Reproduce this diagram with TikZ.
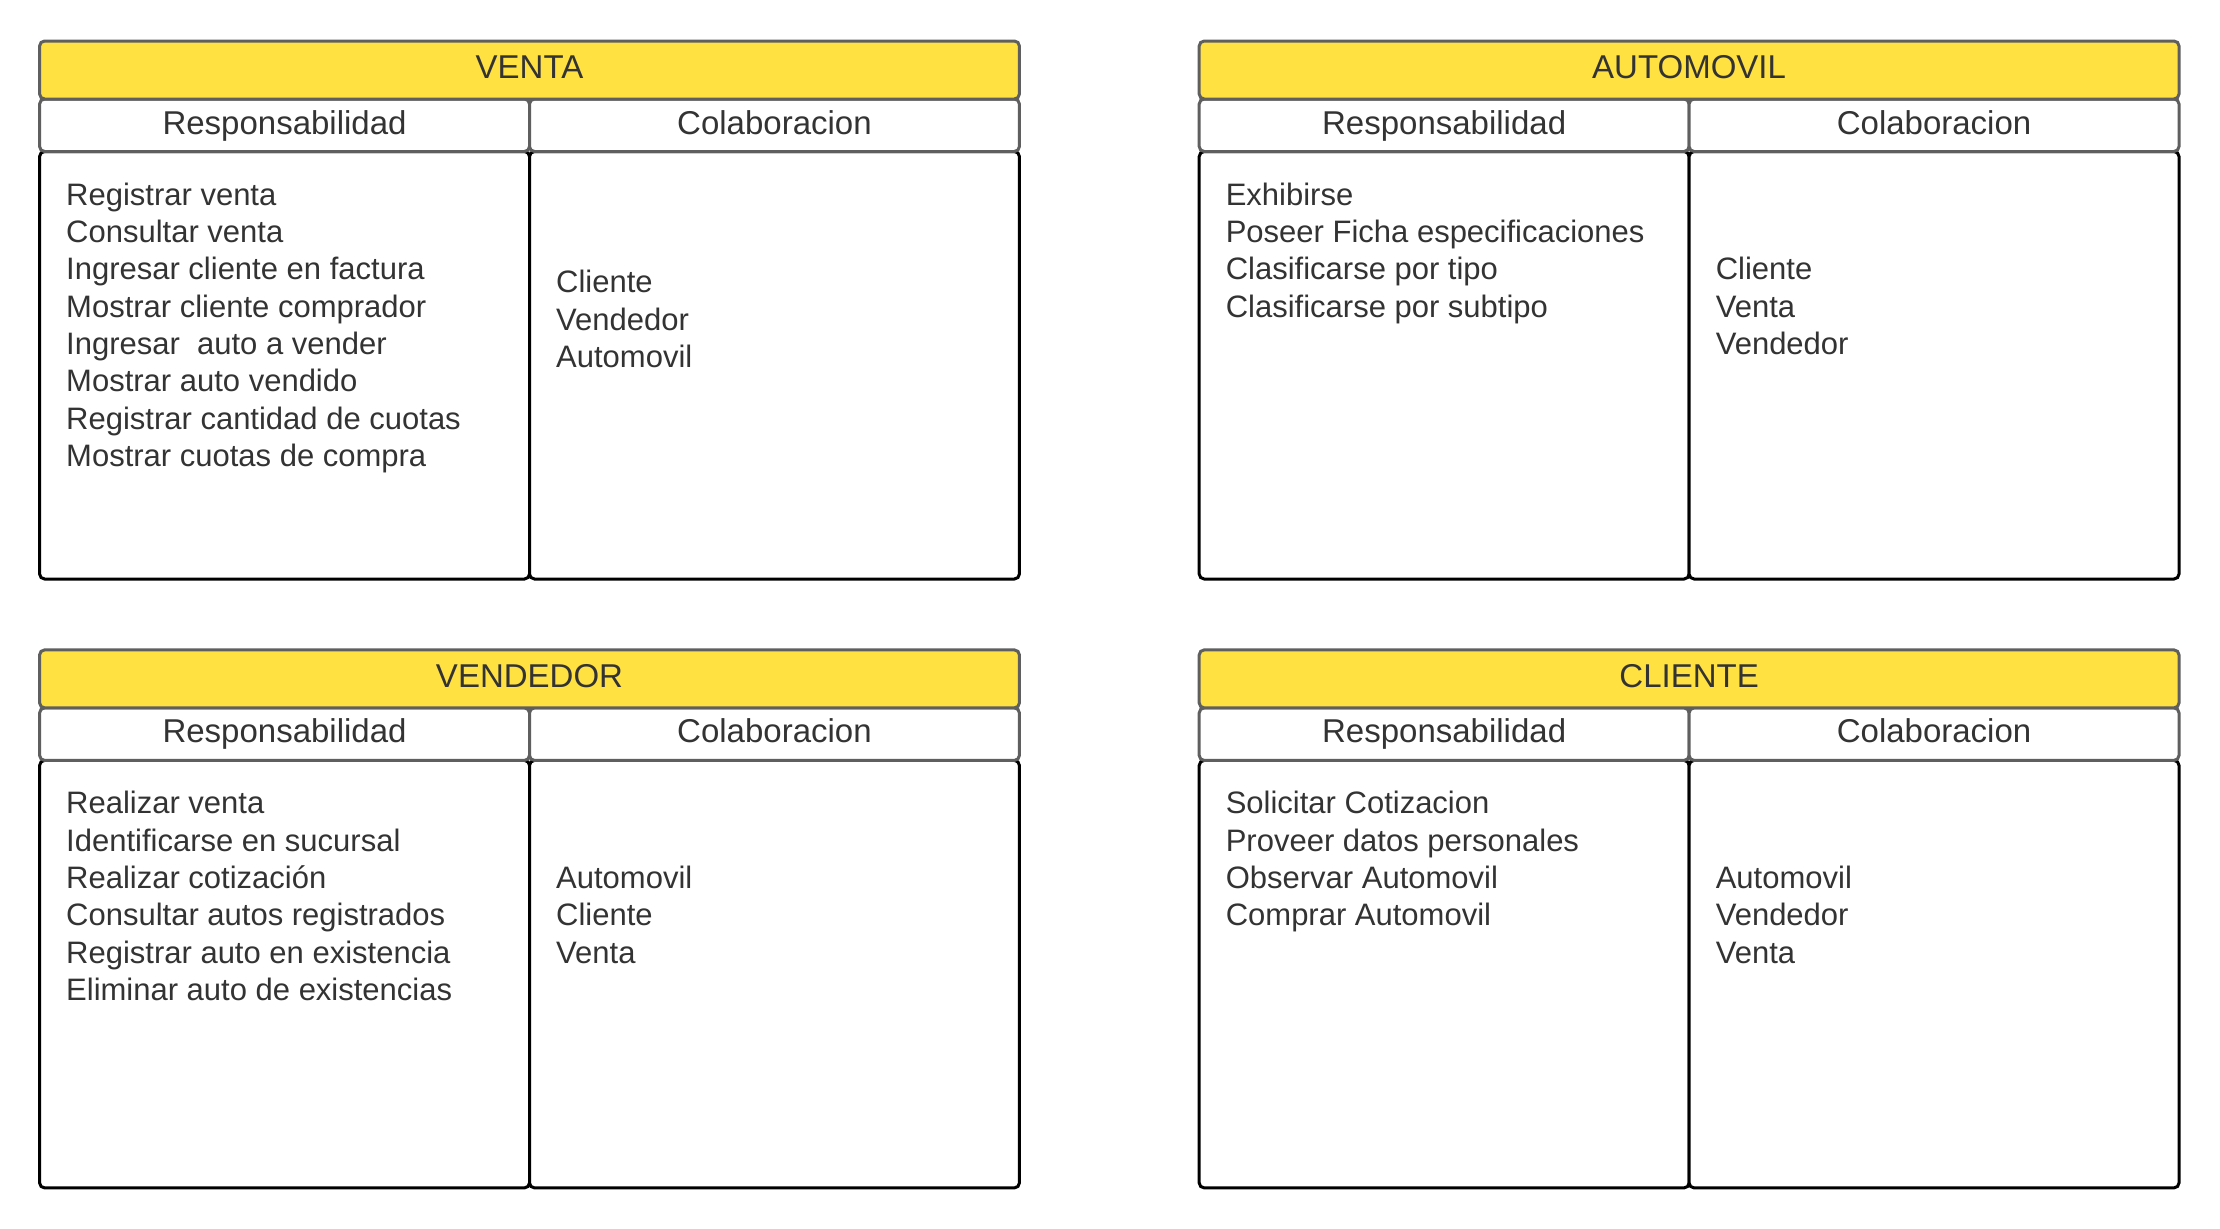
\documentclass[tikz,border=0pt]{standalone}
\usepackage{fontspec}
\setmainfont{Liberation Sans}
\definecolor{cardyellow}{HTML}{FFE142}
\definecolor{cardgray}{HTML}{5F5F5F}
\definecolor{cardtext}{HTML}{333333}
\tikzset{
  titlebox/.style={draw=cardgray, fill=cardyellow, line width=3pt, rounded corners=5pt,
    minimum width=979.8pt, minimum height=58pt, inner sep=0pt},
  headbox/.style={draw=cardgray, fill=white, line width=3pt, rounded corners=5pt,
    minimum width=489.9pt, minimum height=52.5pt, inner sep=0pt},
  bodybox/.style={draw=black, fill=white, line width=3pt, rounded corners=5pt,
    minimum width=489.9pt, minimum height=427.5pt, inner sep=0pt},
  headtext/.style={anchor=base, inner sep=0pt, text=cardtext, font=\fontsize{33}{39}\selectfont},
  itemtext/.style={anchor=base west, inner sep=0pt, text=cardtext, font=\fontsize{31}{37}\selectfont},
}
\newcommand\crccard[7]{%
  \begin{scope}[shift={(#2,#3)}]
    \node[bodybox] (#1-bl) at (284.55,365.25) {};
    \node[bodybox] (#1-br) at (774.45,365.25) {};
    \node[headbox] (#1-hl) at (284.55,125.25) {};
    \node[headbox] (#1-hr) at (774.45,125.25) {};
    \node[titlebox] (#1-title) at (529.5,70) {};
    \node[headtext] (#1-tt) at (529.5,78.3) {#4};
    \node[headtext] (#1-hlt) at (284.55,134) {Responsabilidad};
    \node[headtext] (#1-hrt) at (774.45,134) {Colaboracion};
    \foreach \t [count=\i] in {#5} \node[itemtext] (#1-l\i) at (66,{205+(\i-1)*37.35}) {\t};
    \foreach \t [count=\i] in {#6} \node[itemtext] (#1-r\i) at (556,{#7+(\i-1)*37.35}) {\t};
  \end{scope}}
\begin{document}
\begin{tikzpicture}[x=1pt,y=-1pt]
\useasboundingbox[fill=white] (0,0) rectangle (2220,1229);
\crccard{venta}{0}{0}{VENTA}
  {Registrar venta,Consultar venta,Ingresar cliente en factura,Mostrar cliente comprador,Ingresar\ \ auto a vender,Mostrar auto vendido,Registrar cantidad de cuotas,Mostrar cuotas de compra}
  {Cliente,Vendedor,Automovil}{292.8}
\crccard{auto}{1159.6}{0}{AUTOMOVIL}
  {Exhibirse,Poseer Ficha especificaciones,Clasificarse por tipo,Clasificarse por subtipo}
  {Cliente,Venta,Vendedor}{279.7}
\crccard{vend}{0}{608.9}{VENDEDOR}
  {Realizar venta,Identificarse en sucursal,Realizar cotización,Consultar autos registrados,Registrar auto en existencia,Eliminar auto de existencias}
  {Automovil,Cliente,Venta}{279.7}
\crccard{cli}{1159.6}{608.9}{CLIENTE}
  {Solicitar Cotizacion,Proveer datos personales,Observar Automovil,Comprar Automovil}
  {Automovil,Vendedor,Venta}{279.7}
\end{tikzpicture}
\end{document}
